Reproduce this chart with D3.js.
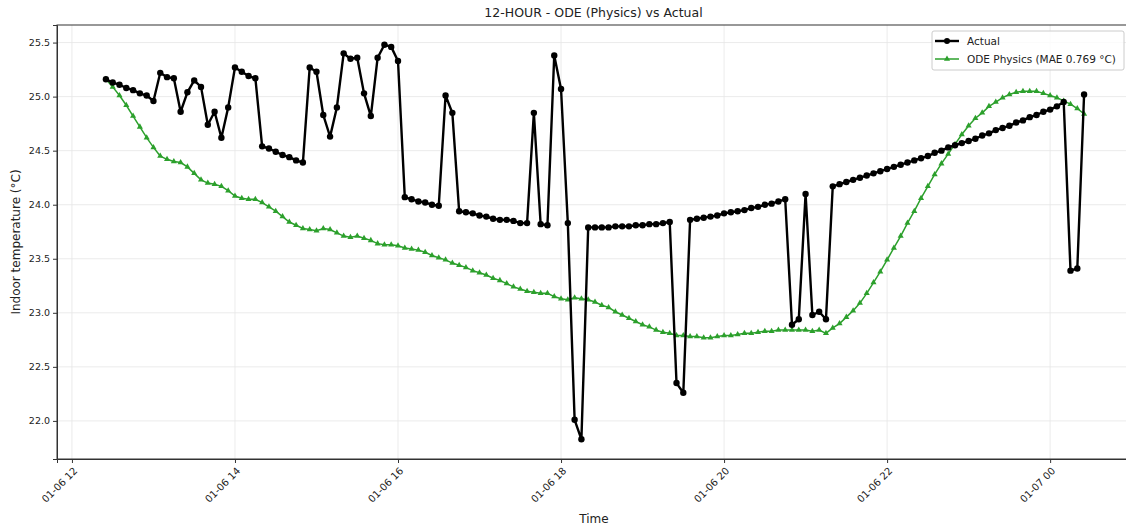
<!DOCTYPE html>
<html lang="en">
<head>
<meta charset="utf-8">
<title>12-HOUR - ODE (Physics) vs Actual</title>
<style>
    body { margin: 0; background: #fff; }
    text { font-family: "DejaVu Sans", sans-serif; fill: #222; }
    .grid line { stroke: #e6e6e6; stroke-width: 0.8; }
    .axis path, .axis line { stroke: #333; }
</style>
<script src="https://d3js.org/d3.v7.min.js"></script>
</head>
<body>
<svg width="1126" height="532"></svg>
<script>
    // readings every 5 minutes, 12:25 on 01-06 to 00:25 on 01-07
    const startTime = "2025-01-06T12:25:00Z";
    const stepMinutes = 5;

    const actual = [
        25.16, 25.13, 25.11, 25.08, 25.06, 25.03, 25.01, 24.96, 25.22, 25.18,
        25.17, 24.86, 25.04, 25.15, 25.09, 24.74, 24.86, 24.62, 24.90, 25.27,
        25.23, 25.19, 25.17, 24.54, 24.52, 24.49, 24.46, 24.44, 24.41, 24.39,
        25.27, 25.23, 24.83, 24.63, 24.90, 25.40, 25.35, 25.36, 25.03, 24.82,
        25.36, 25.48, 25.46, 25.33, 24.07, 24.05, 24.03, 24.02, 24.00, 23.99,
        25.01, 24.85, 23.94, 23.93, 23.92, 23.90, 23.89, 23.87, 23.86, 23.86,
        23.85, 23.83, 23.83, 24.85, 23.82, 23.81, 25.38, 25.07, 23.83, 22.01,
        21.83, 23.79, 23.79, 23.79, 23.79, 23.80, 23.80, 23.80, 23.81, 23.81,
        23.82, 23.82, 23.83, 23.84, 22.35, 22.26, 23.86, 23.87, 23.88, 23.89,
        23.90, 23.92, 23.93, 23.94, 23.95, 23.97, 23.98, 24.00, 24.01, 24.03,
        24.05, 22.89, 22.94, 24.10, 22.98, 23.01, 22.94, 24.17, 24.19, 24.21,
        24.23, 24.25, 24.27, 24.29, 24.31, 24.33, 24.35, 24.37, 24.39, 24.41,
        24.43, 24.45, 24.48, 24.50, 24.53, 24.55, 24.57, 24.59, 24.61, 24.64,
        24.66, 24.69, 24.71, 24.73, 24.76, 24.78, 24.81, 24.83, 24.86, 24.88,
        24.91, 24.95, 23.39, 23.41, 25.02
    ];

    const odePhysics = [
        25.16, 25.09, 25.01, 24.92, 24.82, 24.72, 24.62, 24.53, 24.45, 24.42,
        24.40, 24.39, 24.35, 24.29, 24.23, 24.20, 24.19, 24.17, 24.13, 24.08,
        24.06, 24.05, 24.05, 24.02, 23.98, 23.94, 23.89, 23.84, 23.81, 23.78,
        23.77, 23.76, 23.78, 23.77, 23.74, 23.71, 23.70, 23.71, 23.69, 23.67,
        23.64, 23.63, 23.63, 23.62, 23.60, 23.59, 23.58, 23.56, 23.53, 23.51,
        23.49, 23.46, 23.44, 23.42, 23.39, 23.37, 23.35, 23.32, 23.30, 23.27,
        23.24, 23.22, 23.20, 23.19, 23.18, 23.18, 23.15, 23.13, 23.12, 23.14,
        23.13, 23.12, 23.10, 23.07, 23.05, 23.01, 22.98, 22.95, 22.92, 22.89,
        22.87, 22.84, 22.82, 22.81, 22.79, 22.79, 22.78, 22.78, 22.77, 22.77,
        22.78, 22.79, 22.79, 22.80, 22.81, 22.81, 22.82, 22.83, 22.83, 22.84,
        22.84, 22.84, 22.84, 22.84, 22.83, 22.84, 22.81, 22.86, 22.90, 22.96,
        23.02, 23.09, 23.18, 23.28, 23.38, 23.49, 23.60, 23.71, 23.83, 23.94,
        24.06, 24.17, 24.28, 24.38, 24.47, 24.56, 24.65, 24.73, 24.80, 24.85,
        24.91, 24.95, 24.99, 25.02, 25.04, 25.05, 25.05, 25.05, 25.03, 25.01,
        24.99, 24.96, 24.93, 24.89, 24.84
    ];

    const yTicks = [22.0, 22.5, 23.0, 23.5, 24.0, 24.5, 25.0, 25.5];
    const seriesNames = ["Actual", "ODE Physics (MAE 0.769 °C)"];

    let svg = d3.select("svg"),
        margin = {top: 25, right: -7, bottom: 73, left: 57},
        width = +svg.attr("width") - margin.left - margin.right,
        height = +svg.attr("height") - margin.top - margin.bottom;

    let t0 = new Date(startTime);
    let times = actual.map((d, i) => new Date(t0.getTime() + i * stepMinutes * 60000));

    // matplotlib style 5% padding around the data
    let tExt = d3.extent(times), tPad = (tExt[1] - tExt[0]) * 0.05;
    let allVals = actual.concat(odePhysics);
    let vExt = d3.extent(allVals), vPad = (vExt[1] - vExt[0]) * 0.05;

    let x = d3.scaleUtc()
        .domain([new Date(+tExt[0] - tPad), new Date(+tExt[1] + tPad)])
        .range([0, width]);
    let y = d3.scaleLinear()
        .domain([vExt[0] - vPad, vExt[1] + vPad])
        .range([height, 0]);

    let g = svg.append("g").attr("transform", "translate(" + margin.left + "," + margin.top + ")");

    // grid
    let xTickVals = d3.utcHour.every(2).range(x.domain()[0], x.domain()[1]);
    g.append("g").attr("class", "grid")
        .selectAll("line").data(xTickVals).join("line")
        .attr("x1", d => x(d)).attr("x2", d => x(d))
        .attr("y1", 0).attr("y2", height);
    g.append("g").attr("class", "grid")
        .selectAll("line").data(yTicks).join("line")
        .attr("x1", 0).attr("x2", width)
        .attr("y1", d => y(d)).attr("y2", d => y(d));

    // axes
    let xAxis = g.append("g").attr("class", "axis")
        .attr("transform", "translate(0," + height + ")")
        .call(d3.axisBottom(x).tickValues(xTickVals).tickFormat(d3.utcFormat("%m-%d %H")).tickSizeOuter(0).tickSize(4));
    xAxis.selectAll("text")
        .style("font-size", "10px")
        .attr("text-anchor", "end")
        .attr("x", 0).attr("y", 0)
        .attr("dx", 0).attr("dy", "0.35em")
        .attr("transform", "translate(3,10) rotate(-45)");

    let yAxis = g.append("g").attr("class", "axis")
        .call(d3.axisLeft(y).tickValues(yTicks).tickFormat(d3.format(".1f")).tickSizeOuter(0).tickSize(4));
    yAxis.selectAll("text").style("font-size", "9.5px");

    // frame
    g.append("rect").attr("width", width).attr("height", height)
        .attr("fill", "none").attr("stroke", "#333").attr("stroke-width", 1);

    let line = d3.line().x((d, i) => x(times[i])).y(d => y(d));

    // ODE series
    g.append("path").datum(odePhysics)
        .attr("fill", "none").attr("stroke", "#2ca02c").attr("stroke-width", 1.5)
        .attr("d", line);
    let tri = d3.symbol().type(d3.symbolTriangle).size(16);
    g.selectAll(".ode").data(odePhysics).join("path")
        .attr("class", "ode")
        .attr("d", tri)
        .attr("fill", "#2ca02c")
        .attr("transform", (d, i) => "translate(" + x(times[i]) + "," + y(d) + ")");

    // actual series
    g.append("path").datum(actual)
        .attr("fill", "none").attr("stroke", "#000").attr("stroke-width", 2.4)
        .attr("stroke-linejoin", "round")
        .attr("d", line);
    g.selectAll(".act").data(actual).join("circle")
        .attr("class", "act")
        .attr("cx", (d, i) => x(times[i])).attr("cy", d => y(d))
        .attr("r", 3.2).attr("fill", "#000");

    // titles
    svg.append("text").attr("x", margin.left + (1126 - margin.left) / 2 + 2).attr("y", 17)
        .attr("text-anchor", "middle").style("font-size", "12.5px")
        .text("12-HOUR - ODE (Physics) vs Actual");
    svg.append("text").attr("x", 594).attr("y", 523)
        .attr("text-anchor", "middle").style("font-size", "12px")
        .text("Time");
    svg.append("text").attr("transform", "translate(20," + (margin.top + height / 2) + ") rotate(-90)")
        .attr("text-anchor", "middle").style("font-size", "12px")
        .text("Indoor temperature (°C)");

    // legend
    let lg = svg.append("g").attr("transform", "translate(932,31)");
    lg.append("rect").attr("width", 192).attr("height", 39).attr("rx", 2)
        .attr("fill", "#fff").attr("fill-opacity", 0.8).attr("stroke", "#ccc");
    let rows = lg.selectAll(".row").data(seriesNames).join("g")
        .attr("transform", (d, i) => "translate(0," + (10 + i * 18) + ")");
    rows.append("line").attr("x1", 3).attr("x2", 27)
        .attr("stroke", (d, i) => i ? "#2ca02c" : "#000")
        .attr("stroke-width", (d, i) => i ? 1.5 : 2.4);
    rows.filter((d, i) => i === 0).append("circle").attr("cx", 15).attr("r", 3).attr("fill", "#000");
    rows.filter((d, i) => i === 1).append("path").attr("d", tri).attr("transform", "translate(15,0)").attr("fill", "#2ca02c");
    rows.append("text").attr("x", 35).attr("dy", "0.35em").style("font-size", "10.5px").text(d => d);
</script>
</body>
</html>
